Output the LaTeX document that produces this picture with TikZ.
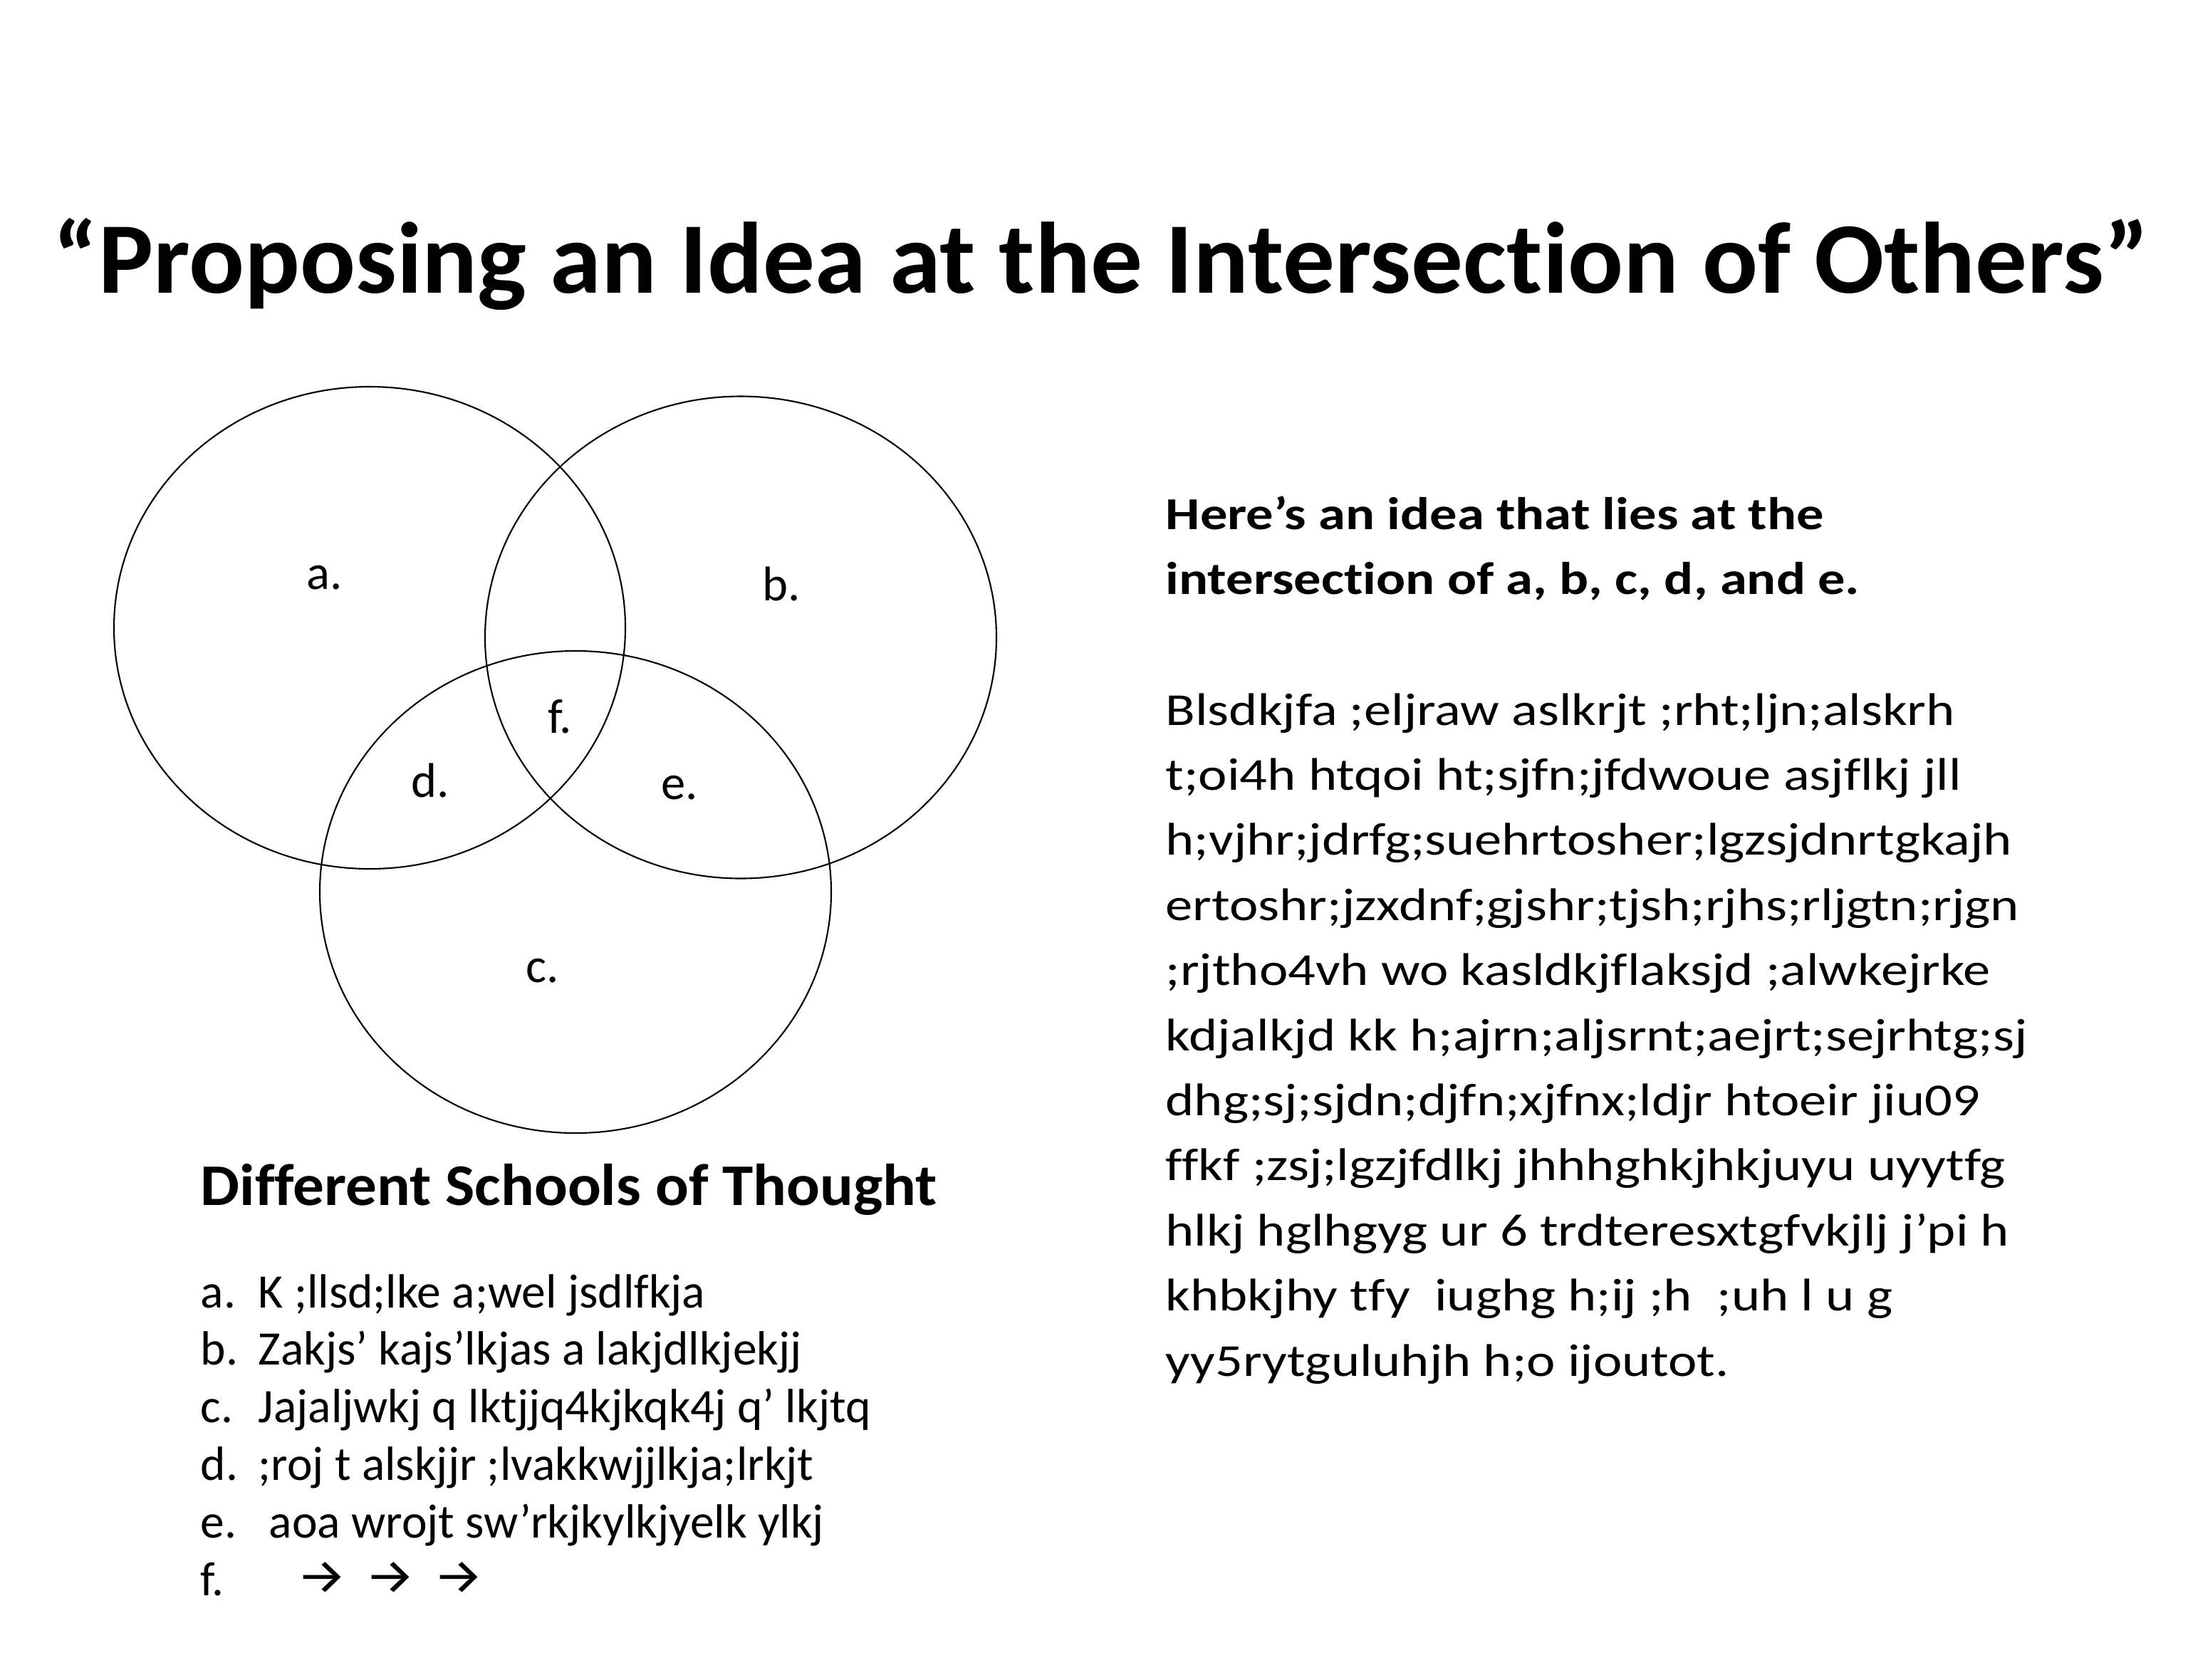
\documentclass[tikz,border=0pt]{standalone}
\usepackage{fontspec}
\setmainfont{Carlito}[Ligatures=CommonOff]
\newfontfamily\titlefont{Carlito}[Ligatures=CommonOff, FakeStretch=1.02]
\newfontfamily\subtitlefont{Carlito}[Ligatures=CommonOff, FakeStretch=1.052]
\newfontfamily\widefont{Carlito}[Ligatures=CommonOff, FakeStretch=1.19]
\newfontfamily\arrowfont{Fira Sans}[FakeStretch=1.15]
\begin{document}
\begin{tikzpicture}[y=-1cm, line join=round, line cap=round,
  school/.style={draw, line width=0.6pt},
  region/.style={font=\fontsize{19.5}{23}\selectfont, anchor=base, inner sep=0pt},
  listline/.style={font=\fontsize{19.2}{23}\selectfont, anchor=base west, inner sep=0pt},
  bodyline/.style={font=\fontsize{18.3}{26}\selectfont\widefont, anchor=base west, inner sep=0pt}]
\useasboundingbox[fill=white] (0,0) rectangle (30.72,23.58);
% title
\node[font=\fontsize{40.5}{48}\selectfont\titlefont\bfseries, anchor=base, inner sep=0pt] (title) at (15.46,4.115)
  {“Proposing an Idea at the Intersection of Others”};
% the three schools
\draw[school] (5.19,8.815) ellipse (3.59cm and 3.385cm);
\draw[school] (10.40,8.95) ellipse (3.59cm and 3.385cm);
\draw[school] (8.08,12.525) ellipse (3.59cm and 3.385cm);
\node[region] (ra) at (4.56,8.27) {a.};
\node[region] (rb) at (10.97,8.43) {b.};
\node[region] (rc) at (7.62,13.79) {c.};
\node[region] (rd) at (6.04,11.19) {d.};
\node[region] (re) at (9.54,11.22) {e.};
\node[region] (rf) at (7.86,10.29) {f.};
% list of schools
\node[font=\fontsize{23.6}{28}\selectfont\subtitlefont\bfseries, anchor=base west, inner sep=0pt] (schools) at (2.81,16.92)
  {Different Schools of Thought};
\foreach \lab/\txt [count=\i from 0] in {a./{K ;llsd;lke a;wel jsdlfkja},
    b./{Zakjs’ kajs’lkjas a lakjdlkjekjj},
    c./{Jajaljwkj q lktjjq4kjkqk4j q’ lkjtq},
    d./{;roj t alskjjr ;lvakkwjjlkja;lrkjt},
    e./{\ aoa wrojt sw’rkjkylkjyelk ylkj}}{
  \node[listline] (lab\i) at (2.81,18.36+0.808*\i) {\lab};
  \node[listline] (item\i) at (3.62,18.36+0.808*\i) {\txt};
}
\node[listline] (lab5) at (2.81,22.40) {f.};
\foreach \x [count=\j] in {4.52,5.485,6.44}
  \node[listline, anchor=base, font=\fontsize{19.6}{23}\selectfont\arrowfont] (arrow\j) at (\x,22.37) {→};
% the idea
\foreach \txt [count=\i from 0] in {Here’s an idea that lies at the,
    {intersection of a, b, c, d, and e.}}
  \node[bodyline, font=\fontsize{18.3}{26}\selectfont\widefont\bfseries] (head\i) at (16.36,7.43+0.91*\i) {\txt};
\foreach \txt [count=\i from 0] in {Blsdkjfa ;eljraw aslkrjt ;rht;ljn;alskrh,
    t;oi4h htqoi ht;sjfn;jfdwoue asjflkj jll,
    h;vjhr;jdrfg;suehrtosher;lgzsjdnrtgkajh,
    ertoshr;jzxdnf;gjshr;tjsh;rjhs;rljgtn;rjgn,
    ;rjtho4vh wo kasldkjflaksjd ;alwkejrke,
    kdjalkjd kk h;ajrn;aljsrnt;aejrt;sejrhtg;sj,
    dhg;sj;sjdn;djfn;xjfnx;ldjr htoeir jiu09,
    ffkf ;zsj;lgzjfdlkj jhhhghkjhkjuyu uyytfg,
    hlkj hglhgyg ur 6 trdteresxtgfvkjlj j’pi h,
    {khbkjhy tfy \ iughg h;ij ;h \ ;uh l u g},
    yy5rytguluhjh h;o ijoutot.}
  \node[bodyline] (body\i) at (16.36,10.18+0.914*\i) {\txt};
\end{tikzpicture}
\end{document}
